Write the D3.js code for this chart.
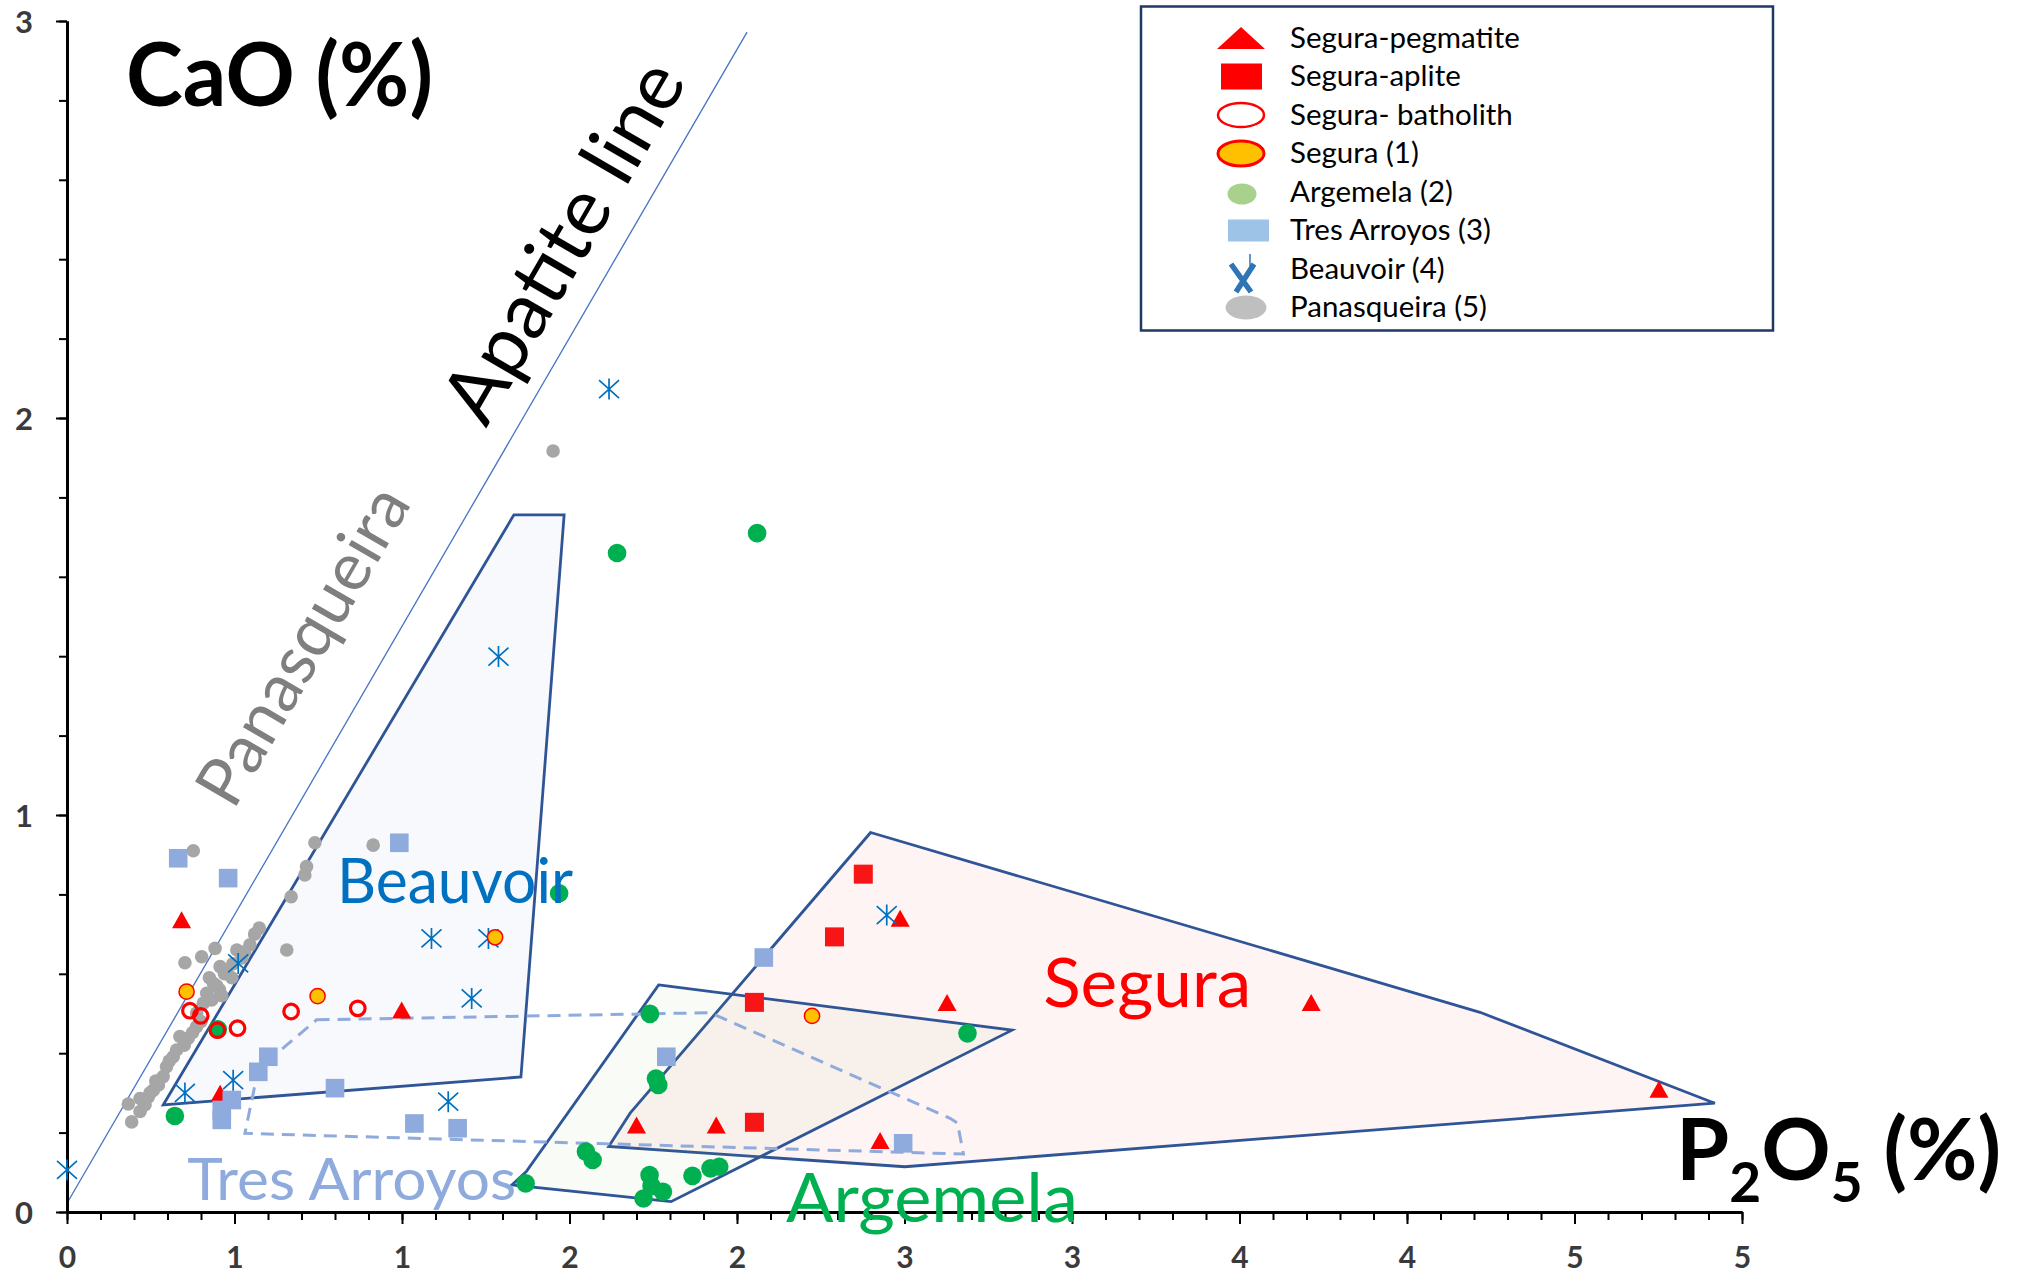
<!DOCTYPE html>
<html>
<head>
<meta charset="utf-8">
<script src="https://cdn.jsdelivr.net/npm/d3@7"></script>
<style>
  html, body { margin: 0; padding: 0; background: #ffffff; }
  svg { display: block; font-family: Lato, "Open Sans", sans-serif; }
</style>
</head>
<body>
<svg id="chart" width="2026" height="1278"></svg>
<script>
// ---- Axis labels ----
const xTickValues = [0, 0.5, 1, 1.5, 2, 2.5, 3, 3.5, 4, 4.5, 5];
const xTickLabels = ["0", "1", "1", "2", "2", "3", "3", "4", "4", "5", "5"];
const yTickValues = [0, 1, 2, 3];
const yTickLabels = ["0", "1", "2", "3"];

// ---- Series: [P2O5 %, CaO %] ----
const seguraPegmatite = [[0.342,0.736],[0.457,0.299],[0.999,0.509],[1.700,0.219],[1.938,0.219],
  [2.627,0.528],[2.427,0.180],[2.487,0.740],[3.714,0.528],[4.752,0.309]];
const seguraAplite = [[2.377,0.851],[2.291,0.693],[2.052,0.528],[2.052,0.226]];
const seguraBatholith = [[0.367,0.507],[0.399,0.494],[0.449,0.458],[0.509,0.463],[0.669,0.505],[0.868,0.513]];
const segura1 = [[0.357,0.555],[0.748,0.544],[1.278,0.692],[2.224,0.494]];
const argemela = [[0.322,0.242],[0.450,0.460],[1.469,0.803],[1.642,1.660],[2.060,1.710],[1.740,0.499],
  [1.758,0.336],[1.765,0.320],[2.688,0.450],[1.369,0.072],[1.549,0.152],[1.569,0.131],[1.739,0.093],
  [1.779,0.051],[1.721,0.034],[1.745,0.065],[1.867,0.091],[1.921,0.110],[1.947,0.114]];
const tresArroyos = [[0.332,0.891],[0.481,0.841],[0.992,0.930],[0.601,0.391],[0.571,0.353],[0.800,0.312],
  [0.492,0.282],[0.462,0.257],[0.462,0.232],[1.037,0.223],[1.166,0.211],[1.789,0.391],[2.080,0.641],[2.496,0.173]];
const beauvoir = [[0,0.106],[0.511,0.626],[0.352,0.300],[0.496,0.332],[1.088,0.689],[1.258,0.689],
  [1.208,0.538],[1.138,0.278],[1.618,2.073],[1.288,1.399],[2.447,0.748]];
const panasqueira = [[0.377,0.910],[0.740,0.930],[0.914,0.924],[0.715,0.870],[0.710,0.849],[0.669,0.794],
  [0.574,0.715],[0.560,0.700],[0.546,0.673],[0.507,0.660],[0.442,0.664],[0.402,0.643],[0.352,0.628],
  [0.656,0.660],[0.457,0.618],[0.477,0.601],[0.447,0.570],[0.437,0.576],[0.417,0.551],[0.432,0.534],
  [0.407,0.526],[0.387,0.501],[0.387,0.467],[0.362,0.438],[0.337,0.442],[0.327,0.408],[0.317,0.391],
  [0.297,0.366],[0.287,0.341],[0.273,0.320],[0.258,0.307],[0.243,0.290],[0.218,0.286],[0.233,0.270],
  [0.183,0.272],[0.218,0.253],[0.193,0.227],[0.522,0.640],[0.492,0.590],[0.462,0.545],[0.530,0.655],
  [0.495,0.625],[0.470,0.600],[0.455,0.560],[0.425,0.590],[0.400,0.480],[0.375,0.452],[0.350,0.420],
  [0.305,0.380],[0.265,0.330],[0.248,0.300],[1.451,1.917]];

// ---- Outlined fields ----
const apatiteLine = [[0, 0.022], [2.03, 2.972]];
const beauvoirField = [[0.2875,0.270],[1.334,1.756],[1.484,1.756],[1.355,0.340]];
const seguraField = [[2.399,0.956],[4.218,0.503],[4.919,0.274],[2.501,0.114],[1.617,0.165],[1.681,0.249]];
const argemelaField = [[1.766,0.572],[2.821,0.458],[1.803,0.026],[1.328,0.068],[1.371,0.102]];
const tresArroyosField = [[0.745,0.484],[1.920,0.502],[2.636,0.236],[2.658,0.224],[2.676,0.146],[0.531,0.198],[0.571,0.360]];

const legendLabels = ["Segura-pegmatite","Segura-aplite","Segura- batholith","Segura (1)",
  "Argemela (2)","Tres Arroyos (3)","Beauvoir (4)","Panasqueira (5)"];

// ---- Scales ----
const svg = d3.select("#chart");
const x = d3.scaleLinear().domain([0, 5]).range([67, 1742]);
const y = d3.scaleLinear().domain([0, 3]).range([1212, 21]);
const px = d => x(d[0]), py = d => y(d[1]);
const line = d3.line().x(px).y(py);
const closed = d3.line().x(px).y(py).curve(d3.curveLinearClosed);

// ---- Fields ----
const fields = svg.append("g");
fields.append("path").attr("d", closed(seguraField))
  .attr("fill", "rgba(255,0,0,0.045)").attr("stroke", "#2f5597").attr("stroke-width", 2.8).attr("stroke-linejoin", "miter");
fields.append("path").attr("d", closed(argemelaField))
  .attr("fill", "rgba(112,173,71,0.05)").attr("stroke", "#2f5597").attr("stroke-width", 2.8);
fields.append("path").attr("d", closed(beauvoirField))
  .attr("fill", "rgba(68,114,196,0.04)").attr("stroke", "#2f5597").attr("stroke-width", 2.8);
fields.append("path").attr("d", closed(tresArroyosField))
  .attr("fill", "none").attr("stroke", "#8faadc").attr("stroke-width", 3).attr("stroke-dasharray", "13,8");

fields.append("path").attr("d", line(apatiteLine))
  .attr("fill", "none").attr("stroke", "#4472c4").attr("stroke-width", 1.3);

// ---- Axes ----
function styleAxis(g) {
  g.select(".domain").attr("stroke", "#000").attr("stroke-width", 3);
  g.selectAll(".tick line").attr("stroke", "#000").attr("stroke-width", 2);
}
const xMinor = svg.append("g").attr("transform", `translate(0,${y(0)})`)
  .call(d3.axisBottom(x).tickValues(d3.range(0, 5.001, 0.1)).tickSize(8).tickSizeOuter(0).tickFormat(""));
styleAxis(xMinor);
const xAxis = svg.append("g").attr("transform", `translate(0,${y(0)})`)
  .call(d3.axisBottom(x).tickValues(xTickValues).tickSize(12).tickSizeOuter(0)
    .tickFormat((d, i) => xTickLabels[i]));
styleAxis(xAxis);
xAxis.selectAll("text").attr("y", 56).attr("dy", 0)
  .attr("font-family", "Lato").attr("font-weight", 700).attr("font-size", 30).attr("fill", "#3a3a3a");

const yMinor = svg.append("g").attr("transform", `translate(${x(0)},0)`)
  .call(d3.axisLeft(y).tickValues(d3.range(0, 3.001, 0.2)).tickSize(8).tickSizeOuter(0).tickFormat(""));
styleAxis(yMinor);
const yAxis = svg.append("g").attr("transform", `translate(${x(0)},0)`)
  .call(d3.axisLeft(y).tickValues(yTickValues).tickSize(11).tickSizeOuter(0)
    .tickFormat((d, i) => yTickLabels[i]));
styleAxis(yAxis);
yAxis.selectAll("text").attr("x", -34).attr("dy", "0.36em")
  .attr("font-family", "Lato").attr("font-weight", 700).attr("font-size", 31).attr("fill", "#3a3a3a");
svg.selectAll(".domain").raise();

// ---- Markers ----
const triPath = "M0,-8.5L9.5,8.5L-9.5,8.5Z";
const starPath = "M0,-10.5V10.5M-10,-9L10,9M10,-9L-10,9";
const marks = svg.append("g");

marks.append("g").selectAll("circle").data(panasqueira).join("circle")
  .attr("cx", px).attr("cy", py).attr("r", 6.8).attr("fill", "#a6a6a6");
marks.append("g").selectAll("path").data(seguraPegmatite).join("path")
  .attr("d", triPath).attr("transform", d => `translate(${px(d)},${py(d)})`).attr("fill", "#ff0000");
marks.append("g").selectAll("rect").data(seguraAplite).join("rect")
  .attr("x", d => px(d) - 9.5).attr("y", d => py(d) - 9.5).attr("width", 19).attr("height", 19).attr("fill", "#f81515");
marks.append("g").selectAll("circle").data(argemela).join("circle")
  .attr("cx", px).attr("cy", py).attr("r", 9.3).attr("fill", "#00b050");
marks.append("g").selectAll("circle").data(seguraBatholith).join("circle")
  .attr("cx", px).attr("cy", py).attr("r", 7.3).attr("fill", "none").attr("stroke", "#ff0000").attr("stroke-width", 3.2);
marks.append("g").selectAll("rect").data(tresArroyos).join("rect")
  .attr("x", d => px(d) - 9.3).attr("y", d => py(d) - 9.3).attr("width", 18.6).attr("height", 18.6).attr("fill", "#8faadc");
marks.append("g").selectAll("path").data(beauvoir).join("path")
  .attr("d", starPath).attr("transform", d => `translate(${px(d)},${py(d)})`)
  .attr("fill", "none").attr("stroke", "#0070c0").attr("stroke-width", 1.7);
marks.append("g").selectAll("circle").data(segura1).join("circle")
  .attr("cx", px).attr("cy", py).attr("r", 7.6).attr("fill", "#ffc000").attr("stroke", "#ff0000").attr("stroke-width", 1.5);

// ---- Field names and axis titles ----
const notes = svg.append("g").attr("font-family", "Lato, sans-serif");
function note(txt, dx, dy, size, color, len, weight) {
  return notes.append("text").attr("x", x(dx)).attr("y", y(dy)).attr("font-size", size)
    .attr("fill", color).attr("font-weight", weight || 400)
    .attr("textLength", len).attr("lengthAdjust", "spacingAndGlyphs").text(txt);
}
note("Beauvoir", 0.806, 0.779, 62, "#0070c0", 236);
note("Segura", 2.914, 0.517, 67, "#ff0000", 208);
note("Tres Arroyos", 0.359, 0.030, 59, "#8faadc", 329);
note("Argemela", 2.146, -0.025, 68, "#00b050", 292);
note("CaO (%)", 0.176, 2.785, 88, "#000000", 307, 700);

const angle = Math.atan2(py(apatiteLine[1]) - py(apatiteLine[0]), px(apatiteLine[1]) - px(apatiteLine[0])) * 180 / Math.PI;
function slanted(txt, dx, dy, size, color, len) {
  notes.append("text").attr("transform", `translate(${x(dx)},${y(dy)}) rotate(${angle})`)
    .attr("text-anchor", "middle").attr("font-size", size).attr("fill", color)
    .attr("textLength", len).attr("lengthAdjust", "spacingAndGlyphs").text(txt);
}
slanted("Apatite line", 1.552, 2.411, 79, "#000000", 402);
slanted("Panasqueira", 0.764, 1.398, 67, "#7f7f7f", 356);

const p2o5 = notes.append("text").attr("x", x(4.803)).attr("y", y(0.081))
  .attr("font-size", 86).attr("font-weight", 700).attr("fill", "#000");
p2o5.append("tspan").text("P");
p2o5.append("tspan").attr("font-size", 55).attr("dy", 22).text("2");
p2o5.append("tspan").attr("dy", -22).text("O");
p2o5.append("tspan").attr("font-size", 55).attr("dy", 22).text("5");
p2o5.append("tspan").attr("dy", -22).text(" (%)");

// ---- Legend ----
const lg = svg.append("g");
lg.append("rect").attr("x", 1141).attr("y", 6.5).attr("width", 632).attr("height", 324)
  .attr("fill", "#ffffff").attr("stroke", "#203864").attr("stroke-width", 2.5);
const rowY = i => 38 + i * 38.5;
const sx = 1241;
lg.append("path").attr("d", `M${sx - 24},${rowY(0) + 11}L${sx + 24},${rowY(0) + 11}L${sx},${rowY(0) - 11}Z`).attr("fill", "#ff0000");
lg.append("rect").attr("x", sx - 20).attr("y", rowY(1) - 13).attr("width", 41).attr("height", 26).attr("fill", "#ff0000");
lg.append("ellipse").attr("cx", sx).attr("cy", rowY(2)).attr("rx", 23).attr("ry", 12).attr("fill", "#fff").attr("stroke", "#ff0000").attr("stroke-width", 2.5);
lg.append("ellipse").attr("cx", sx).attr("cy", rowY(3)).attr("rx", 23).attr("ry", 12.5).attr("fill", "#ffc000").attr("stroke", "#ff0000").attr("stroke-width", 3);
lg.append("ellipse").attr("cx", sx + 1).attr("cy", rowY(4) + 2).attr("rx", 14.5).attr("ry", 10.5).attr("fill", "#a9d18e");
lg.append("rect").attr("x", sx - 13).attr("y", rowY(5) - 11).attr("width", 41).attr("height", 22).attr("fill", "#9dc3e6");
lg.append("path").attr("d", `M${sx + 9},${rowY(6) - 15}V${rowY(6) - 3}`).attr("stroke", "#2e75b6").attr("stroke-width", 1.5);
lg.append("path").attr("d", `M${sx - 10},${rowY(6) - 5}L${sx + 10},${rowY(6) + 23}M${sx + 13},${rowY(6) - 5}L${sx - 5},${rowY(6) + 23}`)
  .attr("stroke", "#2e75b6").attr("stroke-width", 5.5).attr("fill", "none");
lg.append("ellipse").attr("cx", sx + 5).attr("cy", rowY(7)).attr("rx", 20.5).attr("ry", 12).attr("fill", "#bfbfbf");
lg.selectAll("text.item").data(legendLabels).join("text").attr("class", "item")
  .attr("x", 1290).attr("y", (d, i) => rowY(i) + 9.5)
  .attr("font-family", "Lato").attr("font-size", 29.5).attr("fill", "#000").text(d => d);
</script>
</body>
</html>
